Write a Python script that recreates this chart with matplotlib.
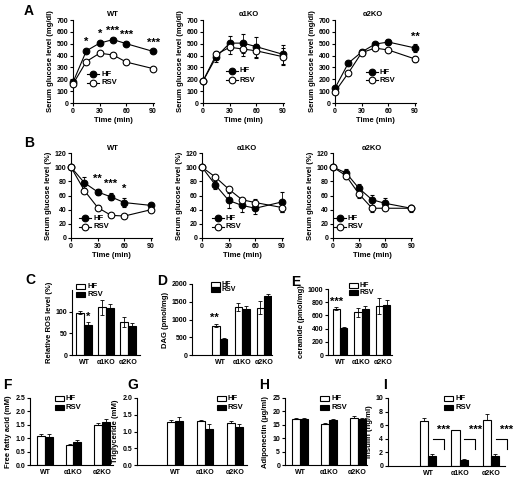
import matplotlib
matplotlib.use('Agg')
import matplotlib.pyplot as plt
from matplotlib.patches import Rectangle
from matplotlib.lines import Line2D
import numpy as np

# ---------------- data ----------------
time_min = [0, 15, 30, 45, 60, 90]

# A: glucose tolerance (mg/dl)
gtt_wt_hf = [175, 440, 505, 535, 500, 435]
gtt_wt_hf_err = [10, 15, 15, 15, 15, 15]
gtt_wt_rsv = [160, 350, 420, 405, 345, 290]
gtt_wt_rsv_err = [10, 15, 15, 15, 20, 10]
gtt_wt_stars = ['', '*', '*', '***', '***', '***']

gtt_a1_hf = [185, 390, 505, 505, 475, 410]
gtt_a1_hf_err = [10, 40, 60, 80, 85, 80]
gtt_a1_rsv = [185, 410, 470, 455, 440, 390]
gtt_a1_rsv_err = [10, 30, 55, 60, 60, 70]
gtt_a1_stars = ['', '', '', '', '', '']

gtt_a2_hf = [125, 337, 430, 497, 514, 464]
gtt_a2_hf_err = [10, 15, 15, 15, 25, 30]
gtt_a2_rsv = [95, 253, 425, 463, 447, 371]
gtt_a2_rsv_err = [10, 15, 15, 10, 15, 25]
gtt_a2_stars = ['', '', '', '', '', '**']

# B: insulin tolerance (%)
itt_wt_hf = [100, 78, 65, 58, 50, 46]
itt_wt_hf_err = [2, 8, 4, 5, 6, 3]
itt_wt_rsv = [100, 67, 43, 32, 31, 40]
itt_wt_rsv_err = [2, 3, 3, 2, 2, 3]
itt_wt_stars = ['', '', '**', '***', '*', '']

itt_a1_hf = [100, 75, 53, 46, 42, 51]
itt_a1_hf_err = [2, 6, 10, 9, 8, 14]
itt_a1_rsv = [100, 86, 69, 54, 50, 43]
itt_a1_rsv_err = [2, 3, 3, 3, 5, 6]
itt_a1_stars = ['', '', '', '', '', '']

itt_a2_hf = [100, 92, 70, 54, 49, 42]
itt_a2_hf_err = [2, 5, 6, 7, 7, 4]
itt_a2_rsv = [100, 88, 62, 42, 42, 42]
itt_a2_rsv_err = [2, 5, 5, 5, 3, 5]
itt_a2_stars = ['', '', '', '', '', '']

groups = ['WT', 'α1KO', 'α2KO']

ros_hf = [98, 110, 76]
ros_hf_err = [4, 18, 12]
ros_rsv = [70, 108, 68]
ros_rsv_err = [6, 10, 5]

dag_hf = [830, 1350, 1330]
dag_hf_err = [50, 110, 180]
dag_rsv = [450, 1300, 1650]
dag_rsv_err = [20, 90, 70]

cer_hf = [700, 645, 745]
cer_hf_err = [20, 65, 120]
cer_rsv = [415, 695, 755]
cer_rsv_err = [10, 50, 85]

ffa_hf = [1.1, 0.76, 1.5]
ffa_hf_err = [0.07, 0.04, 0.05]
ffa_rsv = [1.05, 0.84, 1.6]
ffa_rsv_err = [0.12, 0.1, 0.13]

tg_hf = [1.28, 1.3, 1.25]
tg_hf_err = [0.05, 0.05, 0.06]
tg_rsv = [1.32, 1.07, 1.13]
tg_rsv_err = [0.1, 0.14, 0.1]

adipo_hf = [17.3, 15.3, 17.7]
adipo_hf_err = [0.4, 0.3, 0.4]
adipo_rsv = [17.2, 16.8, 17.1]
adipo_rsv_err = [0.4, 0.4, 0.3]

ins_hf = [6.6, 5.25, 6.75]
ins_hf_err = [0.5, 0.08, 0.85]
ins_rsv = [1.45, 0.95, 1.5]
ins_rsv_err = [0.25, 0.1, 0.3]

# ---------------- style ----------------
plt.rcParams['font.family'] = ['Liberation Sans', 'DejaVu Sans']
plt.rcParams['font.weight'] = 'bold'
plt.rcParams['axes.labelweight'] = 'bold'
plt.rcParams['font.size'] = 5
plt.rcParams['axes.linewidth'] = 0.8
plt.rcParams['xtick.major.size'] = 2
plt.rcParams['ytick.major.size'] = 2
plt.rcParams['xtick.major.width'] = 0.8
plt.rcParams['ytick.major.width'] = 0.8
plt.rcParams['xtick.major.pad'] = 1.5
plt.rcParams['ytick.major.pad'] = 1.5
plt.rcParams['axes.labelsize'] = 5.5

W, H = 514, 480
fig = plt.figure(figsize=(W / 100, H / 100), dpi=100)


def px_axes(x0, y0, x1, y1):
    ax = fig.add_axes([x0 / W, 1 - y1 / H, (x1 - x0) / W, (y1 - y0) / H])
    ax.spines['top'].set_visible(False)
    ax.spines['right'].set_visible(False)
    return ax


def text_px(x, y, s, **kw):
    fig.text(x / W, 1 - y / H, s, **kw)


def line_legend(mx, my, pitch=9):
    for i, (lab, fc) in enumerate([('HF', 'black'), ('RSV', 'white')]):
        y = 1 - (my + i * pitch) / H
        fig.add_artist(Line2D([(mx - 6) / W, (mx + 6) / W], [y, y], color='black', lw=0.8))
        fig.add_artist(Line2D([mx / W], [y], marker='o', ms=4.8, mfc=fc, mec='black', mew=0.8, lw=0))
        fig.text((mx + 8) / W, y, lab, va='center', ha='left', fontsize=5.5)


def bar_legend(bx, by, pitch, fs=5.5):
    for i, (lab, fc) in enumerate([('HF', 'white'), ('RSV', 'black')]):
        y = by + i * pitch
        fig.add_artist(Rectangle((bx / W, 1 - (y + 2.5) / H), 9 / W, 5 / H,
                                 fc=fc, ec='black', lw=0.8))
        text_px(bx + 11, y, lab, va='center', ha='left', fontsize=fs)


def time_panel(ax, hf, hf_err, rsv, rsv_err, stars, ylim, yticks, ylabel, star_pad):
    for vals, errs, fc in [(hf, hf_err, 'black'), (rsv, rsv_err, 'white')]:
        cont = ax.errorbar(time_min, vals, yerr=errs, fmt='-o', color='black', mfc=fc,
                           mec='black', ms=4.8, mew=0.8, lw=0.8, elinewidth=0.6,
                           capsize=1.5, capthick=0.6, zorder=3)
        for art in cont.get_children():
            art.set_clip_on(False)
    for t, v, e, s in zip(time_min, hf, hf_err, stars):
        if s:
            ax.text(t, v + e + star_pad, s, ha='center', va='center', fontsize=8)
    ax.set_xlim(0, 91)
    ax.set_xticks([0, 30, 60, 90])
    ax.set_ylim(*ylim)
    ax.set_yticks(yticks)
    ax.set_xlabel('Time (min)', labelpad=1.5)
    ax.set_ylabel(ylabel, labelpad=2)


def bar_panel(ax, hf, hf_err, rsv, rsv_err, width, xlim, ylim, yticks, ylabel,
              fmt=None, upper_only=False):
    x = np.arange(len(groups))
    for off, vals, errs, fc in [(-width / 2, hf, hf_err, 'white'),
                                (width / 2, rsv, rsv_err, 'black')]:
        ax.bar(x + off, vals, width, color=fc, edgecolor='black', lw=0.8, zorder=2)
        yerr = [np.zeros(len(errs)), errs] if upper_only else errs
        ax.errorbar(x + off, vals, yerr=yerr, fmt='none', ecolor='black',
                    elinewidth=0.6, capsize=1.5, capthick=0.6, zorder=3)
    ax.set_xlim(*xlim)
    ax.set_xticks(x)
    ax.set_xticklabels(groups)
    ax.tick_params(axis='x', length=0, pad=3)
    ax.set_ylim(*ylim)
    ax.set_yticks(yticks)
    if fmt:
        ax.set_yticklabels([fmt.format(v) for v in yticks])
    ax.set_ylabel(ylabel, labelpad=2)
    return x


# ---------------- row A ----------------
gtt_yt = np.arange(0, 701, 100)
ax = px_axes(73, 20, 154, 103)
time_panel(ax, gtt_wt_hf, gtt_wt_hf_err, gtt_wt_rsv, gtt_wt_rsv_err, gtt_wt_stars,
           (0, 700), gtt_yt, 'Serum glucose level (mg/dl)', 60)
ax = px_axes(203, 20, 284, 103)
time_panel(ax, gtt_a1_hf, gtt_a1_hf_err, gtt_a1_rsv, gtt_a1_rsv_err, gtt_a1_stars,
           (0, 700), gtt_yt, 'Serum glucose level (mg/dl)', 60)
ax = px_axes(335, 20, 416, 103)
time_panel(ax, gtt_a2_hf, gtt_a2_hf_err, gtt_a2_rsv, gtt_a2_rsv_err, gtt_a2_stars,
           (0, 700), gtt_yt, 'Serum glucose level (mg/dl)', 60)
line_legend(93, 74)
line_legend(232, 71)
line_legend(372, 72, 8)
text_px(113, 14, 'WT', ha='center', va='center', fontsize=5.5)
text_px(249, 14, 'α1KO', ha='center', va='center', fontsize=5.5)
text_px(373, 14, 'α2KO', ha='center', va='center', fontsize=5.5)

# ---------------- row B ----------------
itt_yt = np.arange(0, 121, 20)
ax = px_axes(71, 153, 152, 238)
time_panel(ax, itt_wt_hf, itt_wt_hf_err, itt_wt_rsv, itt_wt_rsv_err, itt_wt_stars,
           (0, 120), itt_yt, 'Serum glucose level (%)', 14)
ax = px_axes(202, 153, 283, 238)
time_panel(ax, itt_a1_hf, itt_a1_hf_err, itt_a1_rsv, itt_a1_rsv_err, itt_a1_stars,
           (0, 120), itt_yt, 'Serum glucose level (%)', 14)
ax = px_axes(333, 153, 412, 238)
time_panel(ax, itt_a2_hf, itt_a2_hf_err, itt_a2_rsv, itt_a2_rsv_err, itt_a2_stars,
           (0, 120), itt_yt, 'Serum glucose level (%)', 14)
line_legend(85, 218)
line_legend(218, 218)
line_legend(340, 218)
text_px(113, 148, 'WT', ha='center', va='center', fontsize=5.5)
text_px(247, 148, 'α1KO', ha='center', va='center', fontsize=5.5)
text_px(372, 148, 'α2KO', ha='center', va='center', fontsize=5.5)

# ---------------- row C-E ----------------
ax = px_axes(72, 290, 140, 355)
x = bar_panel(ax, ros_hf, ros_hf_err, ros_rsv, ros_rsv_err, 0.37, (-0.55, 2.55),
              (0, 150), [0, 50, 100], 'Relative ROS level (%)')
ax.text(x[0] + 0.37 / 2, ros_rsv[0] + ros_rsv_err[0] + 12, '*', ha='center', va='center', fontsize=8)
bar_legend(76, 286.5, 8, 5.5)

ax = px_axes(192, 284, 272, 355)
x = bar_panel(ax, dag_hf, dag_hf_err, dag_rsv, dag_rsv_err, 0.34, (-1.27, 2.36),
              (0, 2000), [0, 500, 1000, 1500, 2000], 'DAG (pmol/mg)')
ax.text(x[0] - 0.34 / 2 - 0.1, dag_hf[0] + dag_hf_err[0] + 170, '**', ha='center', va='center', fontsize=8)
bar_legend(211, 284, 5.5, 5)

ax = px_axes(328, 289, 392, 355)
x = bar_panel(ax, cer_hf, cer_hf_err, cer_rsv, cer_rsv_err, 0.34, (-0.56, 2.42),
              (0, 1000), [0, 200, 400, 600, 800, 1000], 'ceramide (pmol/mg)')
ax.text(x[0] - 0.34 / 2, cer_hf[0] + cer_hf_err[0] + 90, '***', ha='center', va='center', fontsize=8)
bar_legend(349, 285.5, 6.5, 5)

# ---------------- row F-I ----------------
ax = px_axes(30, 398, 113, 465)
bar_panel(ax, ffa_hf, ffa_hf_err, ffa_rsv, ffa_rsv_err, 0.28, (-0.53, 2.39),
          (0, 2.5), [0, 0.5, 1.0, 1.5, 2.0, 2.5], 'Free fatty acid (mM)', '{:.1f}', True)
bar_legend(55, 398.5, 9)

ax = px_axes(137, 398, 247, 465)
bar_panel(ax, tg_hf, tg_hf_err, tg_rsv, tg_rsv_err, 0.27, (-1.27, 2.4),
          (0, 2.0), [0, 0.5, 1.0, 1.5, 2.0], 'Triglyceride (mM)', '{:.1f}', True)
bar_legend(217, 398.5, 9)

ax = px_axes(285, 398, 367, 465)
bar_panel(ax, adipo_hf, adipo_hf_err, adipo_rsv, adipo_rsv_err, 0.28, (-0.54, 2.33),
          (0, 25), [0, 5, 10, 15, 20, 25], 'Adiponectin (μg/ml)', None, True)
bar_legend(320, 398.5, 9)

ax = px_axes(388, 398, 505, 466)
x = bar_panel(ax, ins_hf, ins_hf_err, ins_rsv, ins_rsv_err, 0.26, (-1.27, 2.44),
              (0, 10), [0, 2, 4, 6, 8, 10], 'Insulin (ng/ml)', None, True)
for g in x:
    ax.plot([g + 0.15, g + 0.5, g + 0.5], [4.0, 4.0, 2.5], color='black', lw=0.8, clip_on=False)
    ax.text(g + 0.5, 5.3, '***', ha='center', va='center', fontsize=8)
bar_legend(444, 398.5, 9)

# ---------------- panel letters ----------------
for lab, px, py in [('A', 29, 11), ('B', 29, 143), ('C', 30, 280), ('D', 162, 281),
                    ('E', 296, 282), ('F', 7, 385), ('G', 133, 385), ('H', 264, 385),
                    ('I', 385, 385)]:
    text_px(px, py, lab, ha='center', va='center', fontsize=10, fontweight='bold')

fig.savefig('out.png', dpi=100)
